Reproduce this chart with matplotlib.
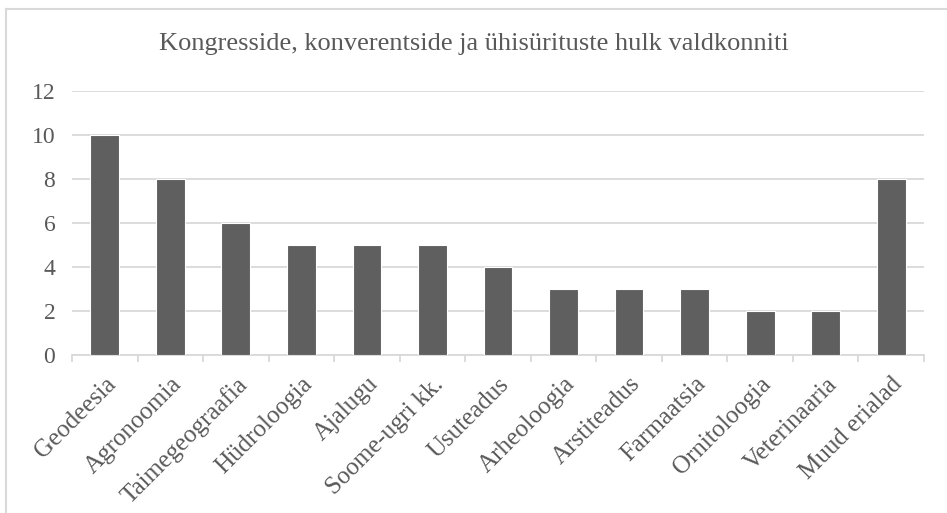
import matplotlib.pyplot as plt
import numpy as np
from matplotlib.lines import Line2D

categories = ['Geodeesia', 'Agronoomia', 'Taimegeograafia', 'Hüdroloogia', 'Ajalugu',
              'Soome-ugri kk.', 'Usuteadus', 'Arheoloogia', 'Arstiteadus', 'Farmaatsia',
              'Ornitoloogia', 'Veterinaaria', 'Muud erialad']
counts = [10, 8, 6, 5, 5, 5, 4, 3, 3, 3, 2, 2, 8]
yticks = [0, 2, 4, 6, 8, 10, 12]
title = 'Kongresside, konverentside ja ühisürituste hulk valdkonniti'

plt.rcParams['font.family'] = ['Liberation Serif', 'DejaVu Serif']
text_col = '#595959'
grid_col = '#d9d9d9'

W, H = 947, 513
fig = plt.figure(figsize=(W / 100, H / 100), dpi=100)
ax = fig.add_axes([72 / W, 1 - 355 / H, (924 - 72) / W, (355 - 91) / H])

x = np.arange(len(categories))
ax.bar(x, counts, width=0.44, color='#5f5f5f', edgecolor='white', linewidth=0.8, zorder=3)

ax.set_xlim(-0.5, len(categories) - 0.5)
ax.set_ylim(0, 12)
ax.set_yticks(yticks)
ax.set_yticklabels([str(v) for v in yticks], fontsize=17, color=text_col)
ax.tick_params(axis='y', length=0, pad=12)
ax.grid(axis='y', color=grid_col, linewidth=1.3, zorder=0)

ax.set_xticks(x)
ax.set_xticklabels(categories, rotation=45, ha='right', rotation_mode='anchor',
                   fontsize=18, color=text_col)
ax.tick_params(axis='x', which='major', length=0, pad=13)
ax.set_xticks(np.arange(len(categories) + 1) - 0.5, minor=True)
ax.tick_params(axis='x', which='minor', length=5, width=1.3, color=grid_col)

for s in ['top', 'right', 'left']:
    ax.spines[s].set_visible(False)
ax.spines['bottom'].set_color(grid_col)
ax.spines['bottom'].set_linewidth(1.3)

fig.text(0.5, 1 - 44 / H, title, ha='center', va='center', fontsize=19, color=text_col)

# chart area border (top and left visible)
fig.add_artist(Line2D([6 / W, 1], [1 - 9 / H, 1 - 9 / H], transform=fig.transFigure,
                      color=grid_col, linewidth=1.5))
fig.add_artist(Line2D([6 / W, 6 / W], [0, 1 - 9 / H], transform=fig.transFigure,
                      color=grid_col, linewidth=1.5))

fig.savefig('out.png', dpi=100)
